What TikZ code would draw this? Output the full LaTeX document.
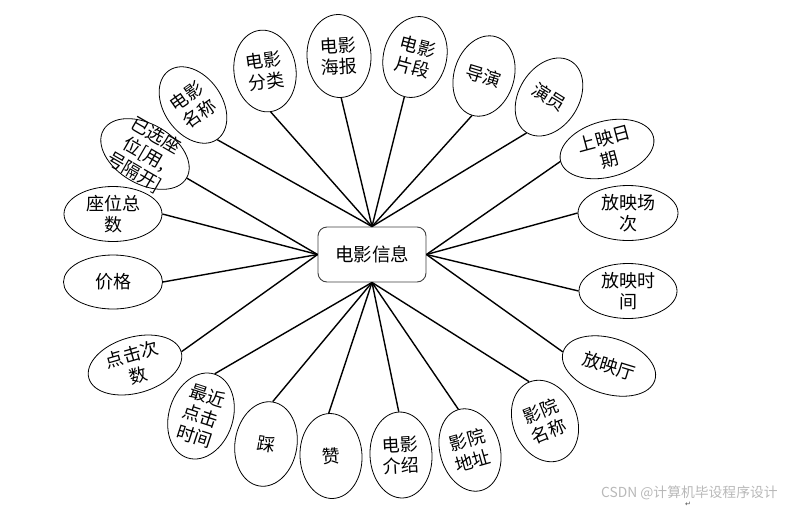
\documentclass[tikz,border=0pt]{standalone}
\usepackage{fontspec}
\setmainfont{Noto Sans CJK SC}
\newfontfamily\dejavu{DejaVu Sans}
\usetikzlibrary{shapes.geometric}
\tikzset{
  attrshape/.style={ellipse, draw=black, line width=0.8pt, fill=white, inner sep=0pt},
  attrtext/.style={font=\fontsize{18}{21.5}\selectfont, align=center, inner sep=0pt},
  conn/.style={line width=1.4pt, draw=black},
  hubbox/.style={draw=black!75, rounded corners=9pt, line width=0.9pt, fill=white,
    minimum width=108pt, minimum height=55pt, inner sep=0pt, font=\fontsize{18.5}{22}\selectfont},
  wmark/.style={text=black!28, font=\fontsize{13.8}{15}\selectfont, inner sep=0pt}
}
% name, x, y, width, height, rotation, text
\newcommand\attrnode[7]{%
  \node[attrshape, minimum width=#4pt, minimum height=#5pt, rotate=#6] (#1) at (#2,#3) {};
  \node[attrtext, rotate=#6] (#1t) at (#1.center) {#7};}
\begin{document}
\begin{tikzpicture}[x=1pt,y=-1pt]
\useasboundingbox (0,0) rectangle (795,509);
\node[hubbox] (hub) at (372,254.5) {电影信息};
\attrnode{n1}{193}{105}{58}{84}{35}{电影\\名称}
\attrnode{n2}{265}{71}{62}{82}{8}{电影\\分类}
\attrnode{n3}{339}{56}{64}{83}{3}{电影\\海报}
\attrnode{n4}{415}{57}{63}{82}{-15}{电影\\片段}
\attrnode{n5}{484}{76}{60}{82}{-17}{导演}
\attrnode{n6}{549}{97}{60}{84}{-32}{演员}
\attrnode{n7}{607}{149}{96}{56}{15}{上映日\\期}
\attrnode{n8}{628}{213}{100}{55}{0}{放映场\\次}
\attrnode{n9}{628}{291}{98}{55}{0}{放映时\\间}
\attrnode{n10}{609}{366}{96}{56}{-17}{放映厅}
\attrnode{n11}{545}{421}{64}{84}{22}{影院\\名称}
\attrnode{n12}{470}{450}{60}{84}{16}{影院\\地址}
\attrnode{n13}{401}{455}{62}{86}{3}{电影\\介绍}
\attrnode{n14}{331}{456}{62}{85}{3}{赞}
\attrnode{n15}{266}{444}{62}{85}{-9}{踩}
\attrnode{n16}{201}{416}{64}{88}{-18}{最近\\点击\\时间}
\attrnode{n17}{135}{365}{96}{56}{16}{点击次\\数}
\attrnode{n18}{113}{282}{99}{54}{0}{价格}
\attrnode{n19}{113}{214}{98}{55}{0}{座位总\\数}
\attrnode{n20}{145}{154}{96}{60}{-30}{已选座\\位[用,\\号隔开]}
\foreach \n in {n1,n2,n3,n4,n5,n6} \draw[conn] (\n.south) -- (hub.north);
\foreach \n in {n7,n8,n9,n10} \draw[conn] (\n.west) -- (hub.east);
\foreach \n in {n11,n12,n13,n14,n15,n16} \draw[conn] (\n.north) -- (hub.south);
\foreach \n in {n17,n18,n19,n20} \draw[conn] (\n.east) -- (hub.west);
\node[wmark, anchor=west] (wm) at (601,493) {CSDN @计算机毕设程序设计};
\node[text=black!70, font=\dejavu\fontsize{7}{8}\selectfont, inner sep=0pt] (ret) at (688,504) {↵};
\end{tikzpicture}
\end{document}
